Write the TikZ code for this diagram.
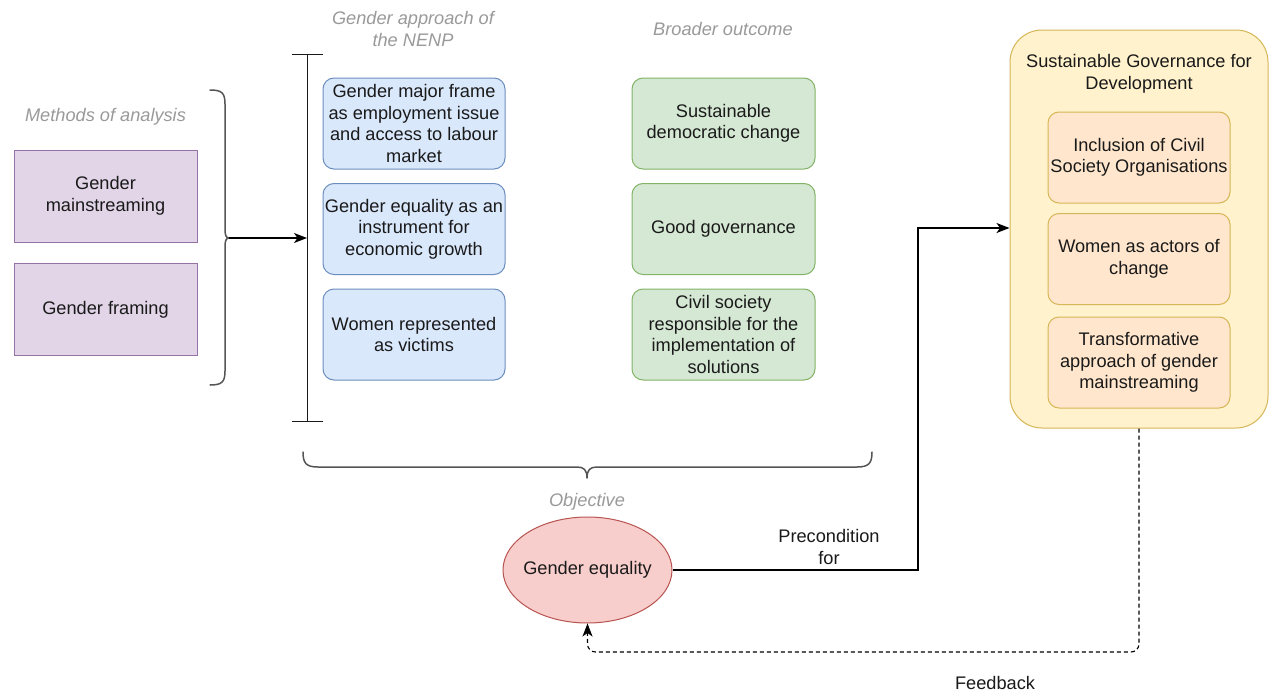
\documentclass[tikz,border=0pt]{standalone}
\usepackage{fontspec}
\setmainfont{Liberation Sans}
\usetikzlibrary{arrows.meta,shapes.geometric}

\definecolor{purplefill}{HTML}{E1D5E7}
\definecolor{purpleline}{HTML}{9673A6}
\definecolor{bluefill}{HTML}{DAE8FC}
\definecolor{blueline}{HTML}{6C8EBF}
\definecolor{greenfill}{HTML}{D5E8D4}
\definecolor{greenline}{HTML}{82B366}
\definecolor{redfill}{HTML}{F8CECC}
\definecolor{redline}{HTML}{B85450}
\definecolor{yellowfill}{HTML}{FFF2CC}
\definecolor{yellowline}{HTML}{D6B656}
\definecolor{orangefill}{HTML}{FFE6CC}
\definecolor{orangeline}{HTML}{D6B656}
\definecolor{captiongray}{HTML}{9A9A9A}
\definecolor{textdark}{HTML}{1A1A1A}
\definecolor{bracegray}{HTML}{555555}

\tikzset{
  basetext/.style={font=\fontsize{18.2}{21.5}\selectfont, text=textdark, align=center},
  caption/.style={font=\fontsize{18.2}{21.5}\selectfont\itshape, text=captiongray, align=center},
  methodbox/.style={basetext, draw=purpleline, fill=purplefill, line width=1pt,
    minimum width=183pt, minimum height=92pt, inner sep=0pt},
  approachbox/.style={basetext, draw=blueline, fill=bluefill, line width=1pt,
    rounded corners=11pt, minimum width=182pt, minimum height=91pt, inner sep=0pt},
  outcomebox/.style={basetext, draw=greenline, fill=greenfill, line width=1pt,
    rounded corners=11pt, minimum width=183pt, minimum height=91pt, inner sep=0pt},
  govbox/.style={basetext, draw=orangeline, fill=orangefill, line width=1pt,
    rounded corners=11pt, minimum width=182pt, minimum height=91pt, inner sep=0pt},
  container/.style={draw=yellowline, fill=yellowfill, line width=1pt,
    rounded corners=32pt, minimum width=258pt, minimum height=398pt, inner sep=0pt},
  goal/.style={ellipse, draw=redline, fill=redfill, line width=1pt,
    minimum width=169pt, minimum height=106pt, inner sep=0pt},
  brace/.style={draw=bracegray, line width=1.5pt, line cap=round, line join=round},
  link/.style={draw=black, line width=1.3pt},
  tip/.style={-{Stealth[length=13pt,width=10pt,inset=3.5pt]}},
}

\begin{document}
\begin{tikzpicture}[x=1pt,y=-1pt]
  \useasboundingbox[fill=white] (0,0) rectangle (1270,696);

  % column captions
  \node[caption] (capmethods) at (105.5,117) {Methods of analysis};
  \node[caption] (capapproach) at (413,29) {Gender approach of\\the NENP};
  \node[caption] (capoutcome) at (723,29) {Broader outcome};
  \node[caption] (capobjective) at (587,502) {Objective};

  % methods of analysis
  \node[methodbox] (gm) at (105.5,196) {Gender\\mainstreaming};
  \node[methodbox] (gf) at (105.5,309.5) {Gender framing};

  % gender approach of the NENP
  \node[approachbox] (a1) at (414,123.5) {Gender major frame\\as employment issue\\and access to labour\\market};
  \node[approachbox] (a2) at (414,229) {Gender equality as an\\instrument for\\economic growth};
  \node[approachbox] (a3) at (414,334.5) {Women represented\\as victims};

  % broader outcome
  \node[outcomebox] (o1) at (723.5,123.5) {Sustainable\\democratic change};
  \node[outcomebox] (o2) at (723.5,229) {Good governance};
  \node[outcomebox] (o3) at (723.5,334.5) {Civil society\\responsible for the\\implementation of\\solutions};

  % sustainable governance for development
  \node[container] (sgd) at (1139,229) {};
  \node[basetext] (sgdtitle) at (1139,74) {Sustainable Governance for\\Development};
  \node[govbox] (g1) at (1139,157.5) {Inclusion of Civil\\Society Organisations};
  \node[govbox] (g2) at (1139,259) {Women as actors of\\change};
  \node[govbox] (g3) at (1139,362.5) {Transformative\\approach of gender\\mainstreaming};

  % objective: fixed-size ellipse with its label set on top
  \node[goal] (ge) at (587.5,570) {};
  \node[basetext] (getext) at (ge.center) {Gender equality};

  % brace grouping the methods
  \draw[brace] (210,90) .. controls (222,90) and (225,93) .. (225,104)
    -- (225,229) .. controls (225,235) and (226,238) .. (229,238)
    .. controls (226,238) and (225,241) .. (225,247)
    -- (225,371) .. controls (225,382) and (222,385) .. (210,385);
  \coordinate (bracetip) at (229,238);

  % bar spanning the NENP column
  \draw[draw=textdark, line width=1pt] (292,54) -- (323,54);
  \draw[draw=textdark, line width=1pt] (307,54) -- (307,421);
  \draw[draw=textdark, line width=1pt] (292,421) -- (323,421);
  \coordinate (barmid) at (307,238);

  % brace under both columns
  \draw[brace] (303,452) .. controls (303,463) and (306,467) .. (318,467)
    -- (577,467) .. controls (584,467) and (587,470) .. (587,478)
    .. controls (587,470) and (590,467) .. (597,467)
    -- (857,467) .. controls (869,467) and (872,463) .. (872,452);

  % connectors
  \draw[link, tip] (bracetip) -- (barmid);
  \coordinate (turn) at (918,228);
  \draw[link, tip] (ge.east) -| (turn) -- (sgd.west |- turn);
  \node[basetext] (precond) at (829,547) {Precondition\\for};

  \draw[link, line width=1.1pt, dash pattern=on 4pt off 3pt, rounded corners=8pt, tip]
    (sgd.south) -- (1139,652) -- (587.5,652) -- (ge.south);
  \node[basetext] (feedback) at (995,683) {Feedback};
\end{tikzpicture}
\end{document}
